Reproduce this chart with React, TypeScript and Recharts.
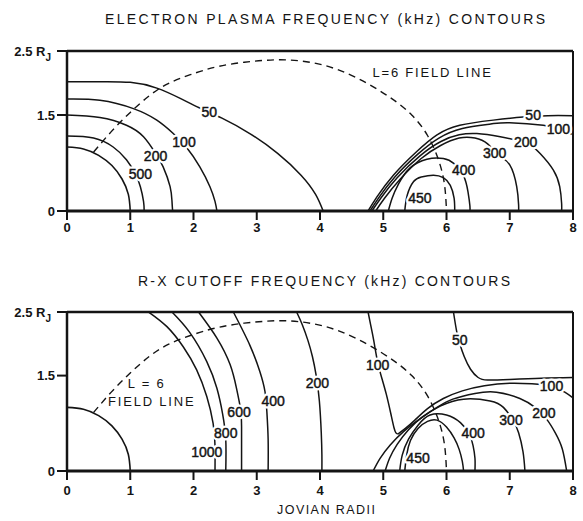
import React from 'react';
import { ScatterChart, Scatter, XAxis, YAxis } from 'recharts';

type Pt = { x: number; y: number };
type Tag = { x: number; y: number; text: string };

const INK = '#141414';
const FONT = '"Liberation Sans", Arial, Helvetica, sans-serif';

const X_TICKS = [0, 1, 2, 3, 4, 5, 6, 7, 8];
const Y_TICKS = [0, 1.5, 2.5];
const RIGHT_TICKS = [1.5];

const P = (x: number, y: number): Pt => ({ x, y });

// Jupiter's surface (1 R_J)
const jupiter: Pt[] = [P(0, 1.0), P(0.26, 0.97), P(0.5, 0.87), P(0.71, 0.71), P(0.87, 0.5), P(0.97, 0.26), P(1.0, 0)];

// L = 6 magnetic field line (dashed, both panels)
const fieldLineL6: Pt[] = [
  P(0.42, 0.92), P(0.7, 1.24), P(1.0, 1.54), P(1.3, 1.8), P(1.6, 1.99), P(1.95, 2.13), P(2.4, 2.26),
  P(2.95, 2.34), P(3.5, 2.36), P(4.05, 2.28), P(4.58, 2.08), P(5.1, 1.78), P(5.45, 1.5), P(5.7, 1.18),
  P(5.88, 0.78), P(5.97, 0.4), P(6.0, 0),
];

// Electron plasma frequency contours (kHz)
const ep500: Pt[] = [P(0, 1.17), P(0.42, 1.14), P(0.73, 1.0), P(0.94, 0.8), P(1.08, 0.58), P(1.16, 0.38), P(1.21, 0.15), P(1.22, 0)];
const ep200: Pt[] = [P(0, 1.5), P(0.52, 1.46), P(0.94, 1.34), P(1.21, 1.16), P(1.4, 0.9), P(1.52, 0.69), P(1.63, 0.38), P(1.66, 0.15), P(1.67, 0)];
const ep100: Pt[] = [P(0, 1.75), P(0.52, 1.73), P(1.05, 1.6), P(1.42, 1.42), P(1.68, 1.21), P(1.9, 0.98), P(2.1, 0.69), P(2.26, 0.38), P(2.34, 0.15), P(2.37, 0)];
const ep50: Pt[] = [
  P(0, 2.02), P(0.5, 2.02), P(1.0, 2.01), P(1.42, 1.92), P(1.79, 1.76), P(2.1, 1.61), P(2.45, 1.45), P(2.89, 1.21),
  P(3.33, 0.9), P(3.7, 0.56), P(3.93, 0.26), P(4.05, 0),
];
const epTorus50: Pt[] = [
  P(4.76, 0), P(4.9, 0.22), P(5.16, 0.56), P(5.53, 0.93), P(5.85, 1.19), P(6.21, 1.34), P(6.74, 1.42),
  P(7.21, 1.47), P(7.6, 1.49), P(8.0, 1.49),
];
const epTorus100: Pt[] = [
  P(4.79, 0), P(4.93, 0.21), P(5.19, 0.54), P(5.56, 0.9), P(5.88, 1.14), P(6.25, 1.29), P(6.7, 1.36),
  P(7.0, 1.38), P(7.53, 1.34), P(7.77, 1.28), P(7.98, 1.2),
];
const epTorus200: Pt[] = [
  P(4.82, 0), P(4.96, 0.2), P(5.22, 0.52), P(5.59, 0.87), P(5.92, 1.09), P(6.2, 1.19), P(6.48, 1.21),
  P(6.85, 1.16), P(7.25, 1.06), P(7.48, 0.9), P(7.69, 0.64), P(7.79, 0.38), P(7.82, 0.12), P(7.82, 0),
];
const epTorus300: Pt[] = [
  P(4.88, 0), P(5.02, 0.2), P(5.27, 0.5), P(5.6, 0.82), P(5.9, 1.02), P(6.2, 1.14), P(6.45, 1.14),
  P(6.65, 1.05), P(6.82, 0.88), P(7.0, 0.72), P(7.11, 0.38), P(7.14, 0.1), P(7.14, 0),
];
const epTorus400: Pt[] = [
  P(5.08, 0), P(5.14, 0.2), P(5.24, 0.42), P(5.42, 0.67), P(5.69, 0.81), P(5.95, 0.82), P(6.12, 0.74),
  P(6.27, 0.55), P(6.34, 0.3), P(6.37, 0.08), P(6.37, 0),
];
const epTorus450: Pt[] = [
  P(5.34, 0), P(5.38, 0.25), P(5.48, 0.46), P(5.6, 0.53), P(5.79, 0.56), P(5.95, 0.52), P(6.06, 0.4),
  P(6.12, 0.2), P(6.13, 0),
];

const epLabels: Tag[] = [
  { x: 2.25, y: 1.55, text: '50' },
  { x: 1.85, y: 1.08, text: '100' },
  { x: 1.4, y: 0.86, text: '200' },
  { x: 1.16, y: 0.58, text: '500' },
  { x: 7.37, y: 1.5, text: '50' },
  { x: 7.77, y: 1.28, text: '100' },
  { x: 7.25, y: 1.08, text: '200' },
  { x: 6.76, y: 0.9, text: '300' },
  { x: 6.27, y: 0.64, text: '400' },
  { x: 5.58, y: 0.21, text: '450' },
];
const epNotes: Tag[] = [{ x: 5.78, y: 2.16, text: 'L=6 FIELD LINE' }];

// R-X cutoff frequency contours (kHz)
const rx1000: Pt[] = [P(1.29, 2.5), P(1.58, 2.27), P(1.84, 1.95), P(2.05, 1.59), P(2.21, 1.17), P(2.31, 0.75), P(2.34, 0.4), P(2.34, 0)];
const rx800: Pt[] = [P(1.66, 2.5), P(1.94, 2.18), P(2.21, 1.72), P(2.37, 1.3), P(2.46, 0.9), P(2.51, 0.5), P(2.51, 0)];
const rx600: Pt[] = [P(2.08, 2.5), P(2.37, 2.09), P(2.58, 1.67), P(2.68, 1.3), P(2.74, 1.0), P(2.76, 0.7), P(2.76, 0)];
const rx400: Pt[] = [P(2.63, 2.5), P(2.89, 1.98), P(3.05, 1.56), P(3.13, 1.25), P(3.16, 0.93), P(3.18, 0.5), P(3.18, 0)];
const rx200: Pt[] = [P(3.63, 2.5), P(3.72, 2.3), P(3.81, 2.05), P(3.88, 1.8), P(3.94, 1.5), P(3.99, 1.1), P(4.02, 0.6), P(4.03, 0.25), P(4.03, 0)];
const rx100Outer: Pt[] = [
  P(4.76, 2.5), P(4.8, 2.3), P(4.85, 2.05), P(4.91, 1.72), P(4.98, 1.45), P(5.05, 1.2), P(5.12, 0.9),
  P(5.17, 0.68), P(5.2, 0.6), P(5.23, 0.58),
];
const rx100Torus: Pt[] = [
  P(5.23, 0.58), P(5.35, 0.67), P(5.5, 0.8), P(5.7, 0.98), P(5.95, 1.14), P(6.25, 1.26), P(6.6, 1.34),
  P(7.0, 1.38), P(7.35, 1.37), P(7.66, 1.33), P(7.87, 1.24), P(8.0, 1.15),
];
const rx50: Pt[] = [
  P(6.11, 2.5), P(6.16, 2.2), P(6.21, 2.0), P(6.28, 1.8), P(6.38, 1.6), P(6.5, 1.47), P(6.65, 1.43),
  P(7.0, 1.44), P(7.5, 1.46), P(8.0, 1.47),
];
const rxTorus200: Pt[] = [
  P(4.84, 0), P(4.95, 0.2), P(5.11, 0.41), P(5.32, 0.62), P(5.58, 0.82), P(5.85, 1.0), P(6.1, 1.13),
  P(6.45, 1.22), P(6.79, 1.24), P(7.16, 1.14), P(7.4, 1.0), P(7.58, 0.82), P(7.72, 0.6), P(7.83, 0.35), P(7.9, 0),
];
const rxTorus300: Pt[] = [
  P(5.03, 0), P(5.1, 0.2), P(5.22, 0.42), P(5.4, 0.65), P(5.62, 0.85), P(5.9, 1.02), P(6.27, 1.13),
  P(6.69, 1.1), P(6.9, 1.0), P(7.05, 0.8), P(7.14, 0.6), P(7.21, 0.3), P(7.24, 0),
];
const rxTorus400: Pt[] = [
  P(5.26, 0), P(5.3, 0.25), P(5.4, 0.5), P(5.55, 0.72), P(5.74, 0.88), P(6.0, 0.88), P(6.22, 0.76),
  P(6.36, 0.58), P(6.42, 0.4), P(6.45, 0.2), P(6.45, 0),
];
const rxTorus450: Pt[] = [
  P(5.34, 0), P(5.37, 0.25), P(5.43, 0.48), P(5.55, 0.67), P(5.7, 0.78), P(5.85, 0.8), P(6.0, 0.69),
  P(6.12, 0.52), P(6.2, 0.34), P(6.25, 0.15), P(6.27, 0),
];

const rxLabels: Tag[] = [
  { x: 2.21, y: 0.3, text: '1000' },
  { x: 2.51, y: 0.59, text: '800' },
  { x: 2.72, y: 0.92, text: '600' },
  { x: 3.26, y: 1.1, text: '400' },
  { x: 3.96, y: 1.38, text: '200' },
  { x: 4.91, y: 1.67, text: '100' },
  { x: 6.21, y: 2.06, text: '50' },
  { x: 7.66, y: 1.33, text: '100' },
  { x: 7.54, y: 0.91, text: '200' },
  { x: 7.02, y: 0.8, text: '300' },
  { x: 6.42, y: 0.59, text: '400' },
  { x: 5.55, y: 0.2, text: '450' },
];
const rxNotes: Tag[] = [
  { x: 1.26, y: 1.38, text: 'L = 6' },
  { x: 1.34, y: 1.09, text: 'FIELD LINE' },
];

const noDot = () => <g />;

// contour value: white halo to break the line underneath, then the ink
const renderTag = (props: any) => {
  const { cx, cy, payload } = props;
  const common = {
    x: cx,
    y: cy,
    textAnchor: 'middle' as const,
    dominantBaseline: 'central' as const,
    fontFamily: FONT,
    fontSize: 14,
  };
  return (
    <g>
      <text {...common} fill="#fff" stroke="#fff" strokeWidth={5} strokeLinejoin="round">
        {payload.text}
      </text>
      <text {...common} fill={INK} stroke={INK} strokeWidth={0.45}>
        {payload.text}
      </text>
    </g>
  );
};

const renderNote = (props: any) => {
  const { cx, cy, payload } = props;
  return (
    <text
      x={cx}
      y={cy}
      textAnchor="middle"
      dominantBaseline="central"
      fontFamily={FONT}
      fontSize={13}
      letterSpacing={1.8}
      fill={INK}
      stroke="#fff"
      strokeWidth={4}
      strokeLinejoin="round"
      paintOrder="stroke"
    >
      {payload.text}
    </text>
  );
};

const renderYTick = (props: any) => {
  const { x, y, payload } = props;
  if (payload.value === 2.5) {
    return (
      <text x={x - 4} y={y} textAnchor="end" dominantBaseline="central" fontFamily={FONT} fontSize={13} fontWeight={700} fill={INK}>
        2.5 R<tspan dy={6} fontSize={10}>J</tspan>
      </text>
    );
  }
  return (
    <text x={x} y={y} textAnchor="end" dominantBaseline="central" fontFamily={FONT} fontSize={13} fontWeight={700} fill={INK}>
      {payload.value}
    </text>
  );
};

const makeXTick = (dy: number) => (props: any) => {
  const { x, y, payload } = props;
  return (
    <text x={x} y={y + dy} textAnchor="middle" dominantBaseline="central" fontFamily={FONT} fontSize={13} fontWeight={700} fill={INK}>
      {payload.value}
    </text>
  );
};

type PanelProps = {
  top: number;
  height: number;
  marginTop: number;
  marginBottom: number;
  curves: Pt[][];
  tags: Tag[];
  notes: Tag[];
  tickDy: number;
  topTick: number;
};

function Panel({ top, height, marginTop, marginBottom, curves, tags, notes, tickDy, topTick }: PanelProps) {
  return (
    <div style={{ position: 'absolute', left: 0, top }}>
      <ScatterChart width={583} height={height} margin={{ top: marginTop, right: 0, bottom: marginBottom, left: 7 }}>
        <XAxis
          type="number"
          dataKey="x"
          domain={[0, 8]}
          ticks={X_TICKS}
          interval={0}
          height={30}
          tickSize={9}
          axisLine={{ stroke: INK, strokeWidth: 3 }}
          tickLine={{ stroke: INK, strokeWidth: 2 }}
          tick={makeXTick(tickDy)}
        />
        <XAxis
          xAxisId="top"
          orientation="top"
          type="number"
          domain={[0, 8]}
          ticks={X_TICKS}
          interval={0}
          height={10}
          tickSize={topTick}
          tick={false}
          axisLine={{ stroke: INK, strokeWidth: 2.5 }}
          tickLine={{ stroke: INK, strokeWidth: 2 }}
        />
        <YAxis
          type="number"
          dataKey="y"
          domain={[0, 2.5]}
          ticks={Y_TICKS}
          interval={0}
          width={60}
          tickSize={10}
          axisLine={{ stroke: INK, strokeWidth: 2.5 }}
          tickLine={{ stroke: INK, strokeWidth: 2 }}
          tick={renderYTick}
        />
        <YAxis
          yAxisId="right"
          orientation="right"
          type="number"
          domain={[0, 2.5]}
          ticks={RIGHT_TICKS}
          interval={0}
          width={10}
          tickSize={7}
          tick={false}
          axisLine={{ stroke: INK, strokeWidth: 2 }}
          tickLine={{ stroke: INK, strokeWidth: 1.5 }}
        />
        <Scatter
          data={jupiter}
          line={{ stroke: INK, strokeWidth: 1.6 }}
          lineJointType="natural"
          shape={noDot}
          isAnimationActive={false}
        />
        <Scatter
          data={fieldLineL6}
          line={{ stroke: INK, strokeWidth: 1.4, strokeDasharray: '7 5' }}
          lineJointType="natural"
          shape={noDot}
          isAnimationActive={false}
        />
        {curves.map((c, i) => (
          <Scatter
            key={i}
            data={c}
            line={{ stroke: INK, strokeWidth: 1.5 }}
            lineJointType="natural"
            shape={noDot}
            isAnimationActive={false}
          />
        ))}
        <Scatter data={tags} shape={renderTag} isAnimationActive={false} />
        <Scatter data={notes} shape={renderNote} isAnimationActive={false} />
      </ScatterChart>
    </div>
  );
}

export default function App() {
  return (
    <div style={{ position: 'absolute', left: 0, top: 0, width: 583, height: 521, background: '#fff' }}>
      <Panel
        top={0}
        height={250}
        marginTop={41}
        marginBottom={9}
        curves={[ep500, ep200, ep100, ep50, epTorus50, epTorus100, epTorus200, epTorus300, epTorus400, epTorus450]}
        tags={epLabels}
        notes={epNotes}
        tickDy={5}
        topTick={8}
      />
      <Panel
        top={260}
        height={261}
        marginTop={42}
        marginBottom={20}
        curves={[rx1000, rx800, rx600, rx400, rx200, rx100Outer, rx100Torus, rx50, rxTorus200, rxTorus300, rxTorus400, rxTorus450]}
        tags={rxLabels}
        notes={rxNotes}
        tickDy={8}
        topTick={7}
      />
      <svg width={583} height={521} style={{ position: 'absolute', left: 0, top: 0, pointerEvents: 'none' }}>
        <text x={105} y={19} textLength={440} lengthAdjust="spacing" dominantBaseline="central" fontFamily={FONT} fontSize={14} fill={INK}>
          ELECTRON PLASMA FREQUENCY (kHz) CONTOURS
        </text>
        <text x={138} y={281} textLength={372} lengthAdjust="spacing" dominantBaseline="central" fontFamily={FONT} fontSize={14} fill={INK}>
          R-X CUTOFF FREQUENCY (kHz) CONTOURS
        </text>
        <text x={277} y={510} textLength={98} lengthAdjust="spacing" dominantBaseline="central" fontFamily={FONT} fontSize={12.5} fill={INK}>
          JOVIAN RADII
        </text>
      </svg>
    </div>
  );
}
